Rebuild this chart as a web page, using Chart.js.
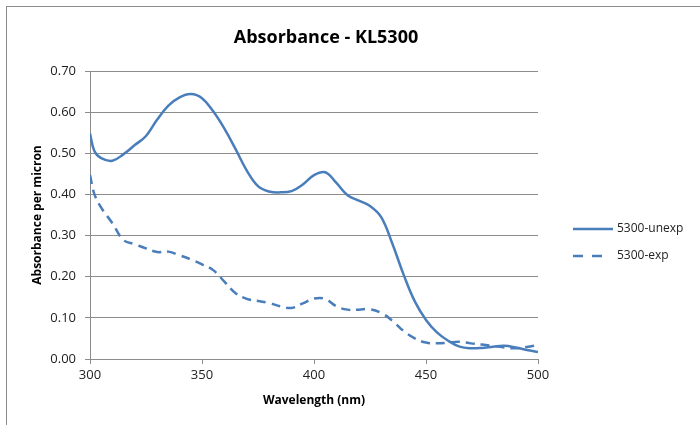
<!DOCTYPE html>
<html>
<head>
<meta charset="utf-8">
<script src="https://cdn.jsdelivr.net/npm/chart.js@4.4.1/dist/chart.umd.min.js"></script>
<style>
  html, body { margin: 0; padding: 0; background: #fff; }
  #wrap { width: 700px; height: 425px; position: relative; }
</style>
</head>
<body>
<div id="wrap"><canvas id="mycanvas" width="700" height="425"></canvas></div>
<script>
// wavelength (nm)
var wavelengths = [300, 302, 305, 310, 315, 320, 325, 330, 335, 340, 345, 350, 355, 360, 365, 370, 375, 380, 385, 390, 395,
                   400, 405, 410, 415, 420, 425, 430, 435, 440, 445, 450, 455, 460, 465, 470, 475, 480, 485, 490, 495, 500];
// absorbance per micron
var unexp = [0.548, 0.505, 0.488, 0.482, 0.498, 0.520, 0.542, 0.582, 0.616, 0.636, 0.644, 0.634, 0.602, 0.560, 0.510, 0.458, 0.420,
             0.407, 0.405, 0.408, 0.424, 0.447, 0.454, 0.428, 0.398, 0.385, 0.372, 0.345, 0.280, 0.205, 0.140, 0.095, 0.064,
             0.044, 0.030, 0.026, 0.027, 0.030, 0.032, 0.028, 0.022, 0.017];
var exp = [0.447, 0.400, 0.368, 0.330, 0.289, 0.279, 0.269, 0.260, 0.261, 0.252, 0.242, 0.230, 0.216, 0.188, 0.160, 0.146, 0.141,
           0.136, 0.128, 0.124, 0.135, 0.147, 0.146, 0.128, 0.120, 0.120, 0.121, 0.112, 0.093, 0.068, 0.050, 0.040, 0.038,
           0.040, 0.042, 0.038, 0.035, 0.032, 0.028, 0.026, 0.029, 0.034];
var seriesNames = ['5300-unexp', '5300-exp'];
var xTicks = [300, 350, 400, 450, 500];
var yTicks = [0, 0.1, 0.2, 0.3, 0.4, 0.5, 0.6, 0.7];

var blue = '#4a7ebb';
var gridColor = '#8c8c8c';
var font = 'Open Sans';

function toPoints(ys) {
	var pts = [];
	for (var i in wavelengths) {
		pts.push({x: wavelengths[i], y: ys[i]});
	}
	return pts;
}

/* border, title and legend like the spreadsheet */
var excelBits = {
	id: 'excelBits',
	beforeDraw: function(chart) {
		var ctx = chart.ctx;
		ctx.save();
		ctx.fillStyle = '#fff';
		ctx.fillRect(0, 0, chart.width, chart.height);
		ctx.strokeStyle = '#8c8c8c';
		ctx.lineWidth = 1;
		ctx.strokeRect(6.5, 6.5, 900, 900);
		ctx.restore();
	},
	afterDraw: function(chart) {
		var ctx = chart.ctx;
		ctx.save();
		ctx.fillStyle = '#000';
		ctx.font = 'bold 18px "' + font + '"';
		ctx.textAlign = 'center';
		ctx.textBaseline = 'middle';
		ctx.fillText('Absorbance - KL5300', 326, 38);

		var rows = [229, 256];
		var dashes = [[], [10, 9]];
		var ends = [613, 603];
		ctx.font = '12px "' + font + '"';
		ctx.textAlign = 'left';
		for (var i = 0; i < 2; i++) {
			ctx.strokeStyle = blue;
			ctx.lineWidth = 2.5;
			ctx.setLineDash(dashes[i]);
			ctx.beginPath();
			ctx.moveTo(573, rows[i]);
			ctx.lineTo(ends[i], rows[i]);
			ctx.stroke();
			ctx.setLineDash([]);
			ctx.fillStyle = '#222';
			ctx.fillText(seriesNames[i], 617, rows[i]);
		}
		ctx.restore();
	}
};

var chartdata = {
	datasets: [
		{
			label: seriesNames[0],
			data: toPoints(unexp),
			borderColor: blue,
			borderWidth: 2.5,
			pointRadius: 0,
			tension: 0.4,
			fill: false
		},
		{
			label: seriesNames[1],
			data: toPoints(exp),
			borderColor: blue,
			borderWidth: 2.5,
			borderDash: [9, 6],
			pointRadius: 0,
			tension: 0.4,
			fill: false
		}
	]
};

var ctx = document.getElementById('mycanvas');

var lineGraph = new Chart(ctx, {
	type: 'line',
	data: chartdata,
	options: {
		responsive: false,
		animation: false,
		layout: { padding: { left: 10, right: 162, top: 71, bottom: 16 } },
		plugins: {
			legend: { display: false },
			title: { display: false },
			tooltip: { enabled: false }
		},
		scales: {
			x: {
				type: 'linear',
				min: 300,
				max: 500,
				afterFit: function(s) { s.height = 50; },
				afterBuildTicks: function(s) { s.ticks = xTicks.map(function(v) { return {value: v}; }); },
				grid: { drawOnChartArea: false, drawTicks: true, tickLength: 5, color: gridColor },
				border: { color: gridColor },
				ticks: { color: '#222', font: { family: font, size: 13 }, padding: 3, maxRotation: 0 },
				title: { display: true, text: 'Wavelength (nm)', color: '#000', font: { family: font, size: 12, weight: 'bold' }, padding: { top: 0, bottom: 1 } }
			},
			y: {
				min: 0,
				max: 0.7,
				afterFit: function(s) { s.width = 80; },
				afterBuildTicks: function(s) { s.ticks = yTicks.map(function(v) { return {value: v}; }); },
				grid: { color: gridColor, drawTicks: true, tickLength: 5 },
				border: { color: gridColor },
				ticks: {
					color: '#222',
					font: { family: font, size: 13 },
					padding: 9,
					callback: function(v) { return v.toFixed(2); }
				},
				title: { display: true, text: 'Absorbance per micron', color: '#000', font: { family: font, size: 12, weight: 'bold' }, padding: { top: 20, bottom: 0 } }
			}
		}
	},
	plugins: [excelBits]
});
</script>
</body>
</html>
